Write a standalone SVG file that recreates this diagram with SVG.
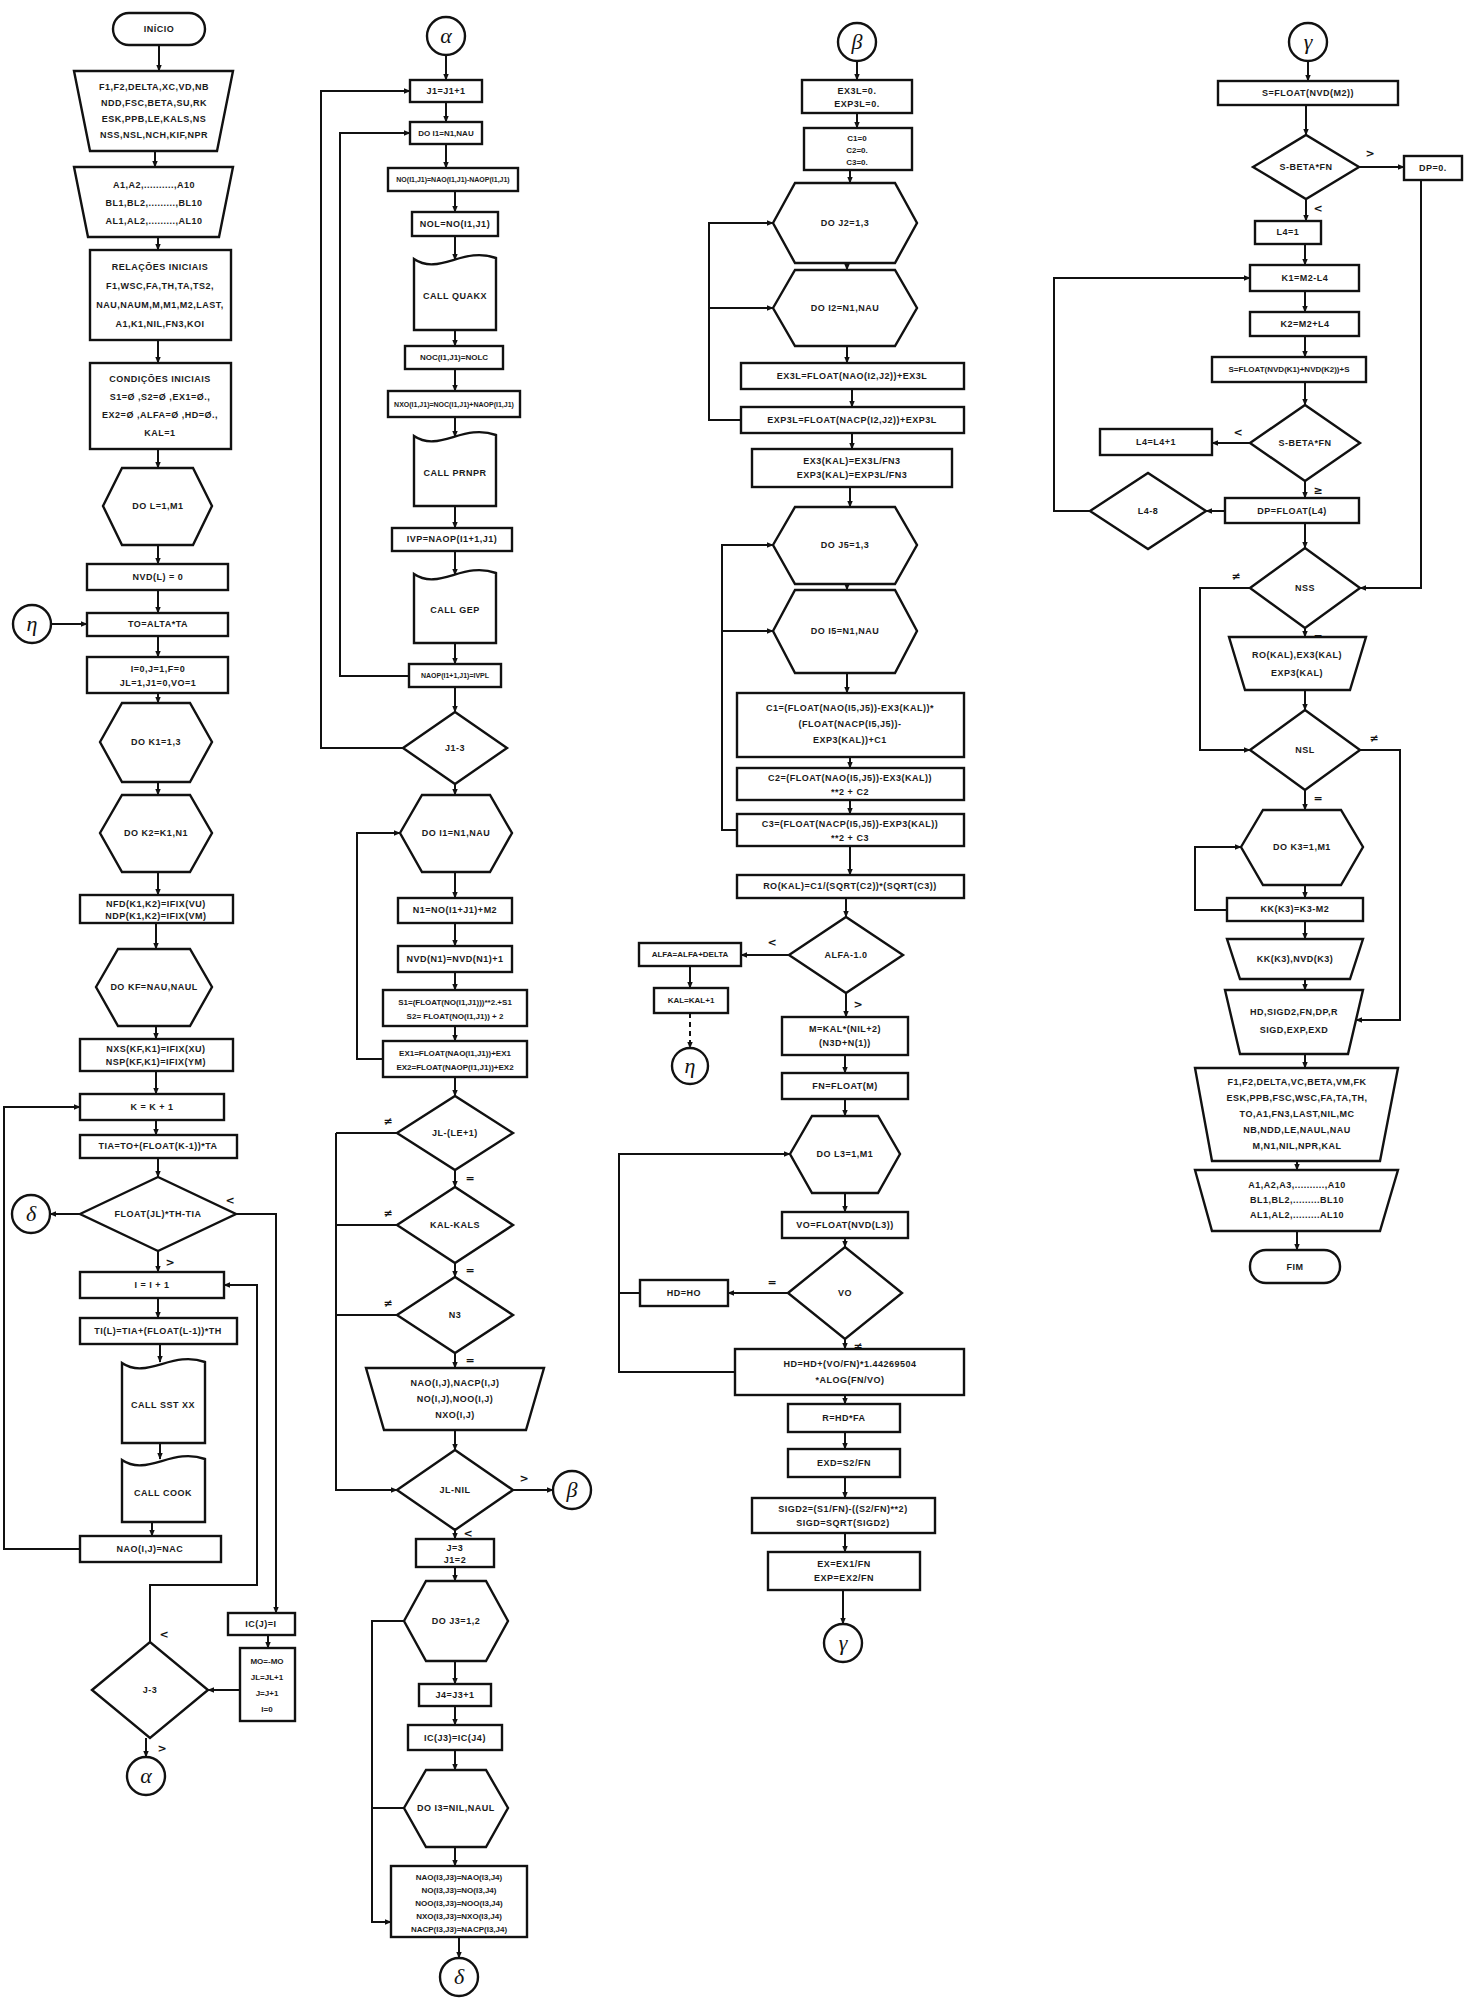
<svg xmlns="http://www.w3.org/2000/svg" width="1471" height="2011" viewBox="0 0 1471 2011">
<defs>
<marker id="a" viewBox="0 0 10 10" refX="9" refY="5" markerWidth="7" markerHeight="7" orient="auto" markerUnits="userSpaceOnUse"><path d="M0,1 L10,5 L0,9 z" fill="#111"/></marker>
<style>
.b{fill:#fff;stroke:#111;stroke-width:2.4}
.c{fill:none;stroke:#111;stroke-width:2}
.d{fill:none;stroke:#111;stroke-width:2;stroke-dasharray:5 4}
.t{font-family:"Liberation Sans",Arial,sans-serif;font-weight:bold;font-size:9px;letter-spacing:0.5px;fill:#1a1a1a;text-anchor:middle}
.m{font-size:8px;letter-spacing:0}
.s{font-size:7px;letter-spacing:0}
.g{font-family:"Liberation Serif","Times New Roman",serif;font-style:italic;font-size:22px;fill:#111;text-anchor:middle}
.l{font-family:"DejaVu Sans",sans-serif;font-weight:bold;font-size:11px;fill:#111;text-anchor:middle}
</style>
</defs>
<rect width="1471" height="2011" fill="#fff"/>

<g id="connectors">
<!-- column 1 -->
<path class="c" marker-end="url(#a)" d="M159,45 V71"/>
<path class="c" marker-end="url(#a)" d="M155,151 V167"/>
<path class="c" marker-end="url(#a)" d="M158,237 V250"/>
<path class="c" marker-end="url(#a)" d="M158,340 V363"/>
<path class="c" marker-end="url(#a)" d="M158,449 V468"/>
<path class="c" marker-end="url(#a)" d="M158,545 V564"/>
<path class="c" marker-end="url(#a)" d="M158,590 V613"/>
<path class="c" marker-end="url(#a)" d="M158,636 V657"/>
<path class="c" marker-end="url(#a)" d="M158,693 V703"/>
<path class="c" marker-end="url(#a)" d="M158,782 V795"/>
<path class="c" marker-end="url(#a)" d="M158,872 V895"/>
<path class="c" marker-end="url(#a)" d="M156,923 V949"/>
<path class="c" marker-end="url(#a)" d="M156,1026 V1039"/>
<path class="c" marker-end="url(#a)" d="M156,1071 V1094"/>
<path class="c" marker-end="url(#a)" d="M156,1120 V1135"/>
<path class="c" marker-end="url(#a)" d="M158,1158 V1177"/>
<path class="c" marker-end="url(#a)" d="M158,1251 V1272"/>
<path class="c" marker-end="url(#a)" d="M158,1298 V1318"/>
<path class="c" marker-end="url(#a)" d="M160,1344 V1362"/>
<path class="c" marker-end="url(#a)" d="M160,1443 V1459"/>
<path class="c" marker-end="url(#a)" d="M152,1522 V1536"/>
<path class="c" marker-end="url(#a)" d="M51,624 H87"/>
<path class="c" marker-end="url(#a)" d="M80,1214 H50"/>
<path class="c" marker-end="url(#a)" d="M80,1549 H4 V1107 H80"/>
<path class="c" marker-end="url(#a)" d="M236,1214 H276 V1613"/>
<path class="c" marker-end="url(#a)" d="M150,1642 V1585 H257 V1285 H224"/>
<path class="c" marker-end="url(#a)" d="M268,1635 V1648"/>
<path class="c" marker-end="url(#a)" d="M240,1690 H208"/>
<path class="c" marker-end="url(#a)" d="M146,1738 V1757"/>
<!-- column 2 -->
<path class="c" marker-end="url(#a)" d="M446,55 V80"/>
<path class="c" marker-end="url(#a)" d="M446,102 V122"/>
<path class="c" marker-end="url(#a)" d="M446,144 V168"/>
<path class="c" marker-end="url(#a)" d="M455,191 V212"/>
<path class="c" marker-end="url(#a)" d="M455,236 V260"/>
<path class="c" marker-end="url(#a)" d="M455,330 V346"/>
<path class="c" marker-end="url(#a)" d="M455,369 V391"/>
<path class="c" marker-end="url(#a)" d="M455,417 V437"/>
<path class="c" marker-end="url(#a)" d="M455,506 V528"/>
<path class="c" marker-end="url(#a)" d="M455,551 V575"/>
<path class="c" marker-end="url(#a)" d="M455,643 V664"/>
<path class="c" marker-end="url(#a)" d="M455,687 V712"/>
<path class="c" marker-end="url(#a)" d="M403,748 H321 V91 H410"/>
<path class="c" marker-end="url(#a)" d="M409,676 H340 V133 H410"/>
<path class="c" marker-end="url(#a)" d="M455,784 V795"/>
<path class="c" marker-end="url(#a)" d="M455,872 V898"/>
<path class="c" marker-end="url(#a)" d="M455,923 V946"/>
<path class="c" marker-end="url(#a)" d="M455,972 V990"/>
<path class="c" marker-end="url(#a)" d="M455,1026 V1041"/>
<path class="c" marker-end="url(#a)" d="M455,1077 V1096"/>
<path class="c" marker-end="url(#a)" d="M383,1059 H357 V833 H400"/>
<path class="c" marker-end="url(#a)" d="M455,1170 V1187"/>
<path class="c" marker-end="url(#a)" d="M455,1263 V1277"/>
<path class="c" marker-end="url(#a)" d="M455,1353 V1368"/>
<path class="c" marker-end="url(#a)" d="M455,1430 V1450"/>
<path class="c" d="M397,1133 H336"/>
<path class="c" d="M397,1225 H336"/>
<path class="c" d="M397,1315 H336"/>
<path class="c" marker-end="url(#a)" d="M336,1133 V1490 H397"/>
<path class="c" marker-end="url(#a)" d="M513,1490 H553"/>
<path class="c" marker-end="url(#a)" d="M455,1530 V1539"/>
<path class="c" marker-end="url(#a)" d="M455,1567 V1581"/>
<path class="c" marker-end="url(#a)" d="M455,1661 V1684"/>
<path class="c" marker-end="url(#a)" d="M455,1706 V1725"/>
<path class="c" marker-end="url(#a)" d="M455,1750 V1770"/>
<path class="c" marker-end="url(#a)" d="M455,1847 V1866"/>
<path class="c" marker-end="url(#a)" d="M459,1937 V1958"/>
<path class="c" marker-end="url(#a)" d="M404,1621 H372 V1922 H391"/>
<path class="c" d="M404,1808 H372"/>
<!-- column 3 -->
<path class="c" marker-end="url(#a)" d="M857,61 V80"/>
<path class="c" marker-end="url(#a)" d="M857,113 V128"/>
<path class="c" marker-end="url(#a)" d="M850,170 V183"/>
<path class="c" marker-end="url(#a)" d="M847,263 V270"/>
<path class="c" marker-end="url(#a)" d="M847,346 V363"/>
<path class="c" marker-end="url(#a)" d="M852,389 V407"/>
<path class="c" marker-end="url(#a)" d="M852,433 V449"/>
<path class="c" marker-end="url(#a)" d="M850,487 V507"/>
<path class="c" marker-end="url(#a)" d="M847,584 V590"/>
<path class="c" marker-end="url(#a)" d="M847,673 V693"/>
<path class="c" marker-end="url(#a)" d="M850,757 V768"/>
<path class="c" marker-end="url(#a)" d="M850,800 V814"/>
<path class="c" marker-end="url(#a)" d="M850,846 V875"/>
<path class="c" marker-end="url(#a)" d="M846,898 V917"/>
<path class="c" marker-end="url(#a)" d="M741,420 H709 V223 H773"/>
<path class="c" marker-end="url(#a)" d="M709,308 H773"/>
<path class="c" marker-end="url(#a)" d="M737,830 H722 V545 H773"/>
<path class="c" marker-end="url(#a)" d="M722,631 H773"/>
<path class="c" marker-end="url(#a)" d="M789,955 H741"/>
<path class="c" marker-end="url(#a)" d="M690,966 V988"/>
<path class="d" marker-end="url(#a)" d="M690,1013 V1048"/>
<path class="c" marker-end="url(#a)" d="M846,993 V1017"/>
<path class="c" marker-end="url(#a)" d="M845,1055 V1073"/>
<path class="c" marker-end="url(#a)" d="M845,1099 V1116"/>
<path class="c" marker-end="url(#a)" d="M845,1193 V1212"/>
<path class="c" marker-end="url(#a)" d="M845,1238 V1247"/>
<path class="c" marker-end="url(#a)" d="M788,1293 H728"/>
<path class="c" d="M640,1293 H619"/>
<path class="c" marker-end="url(#a)" d="M845,1339 V1349"/>
<path class="c" marker-end="url(#a)" d="M735,1372 H619 V1154 H790"/>
<path class="c" marker-end="url(#a)" d="M845,1395 V1404"/>
<path class="c" marker-end="url(#a)" d="M845,1432 V1449"/>
<path class="c" marker-end="url(#a)" d="M845,1477 V1498"/>
<path class="c" marker-end="url(#a)" d="M845,1533 V1552"/>
<path class="c" marker-end="url(#a)" d="M843,1590 V1624"/>
<!-- column 4 -->
<path class="c" marker-end="url(#a)" d="M1308,61 V81"/>
<path class="c" marker-end="url(#a)" d="M1306,105 V135"/>
<path class="c" marker-end="url(#a)" d="M1359,167 H1404"/>
<path class="c" marker-end="url(#a)" d="M1421,180 V588 H1360"/>
<path class="c" marker-end="url(#a)" d="M1306,199 V221"/>
<path class="c" marker-end="url(#a)" d="M1305,244 V265"/>
<path class="c" marker-end="url(#a)" d="M1305,291 V312"/>
<path class="c" marker-end="url(#a)" d="M1305,336 V357"/>
<path class="c" marker-end="url(#a)" d="M1305,382 V405"/>
<path class="c" marker-end="url(#a)" d="M1250,443 H1212"/>
<path class="c" marker-end="url(#a)" d="M1305,481 V498"/>
<path class="c" marker-end="url(#a)" d="M1225,511 H1206"/>
<path class="c" marker-end="url(#a)" d="M1090,511 H1054 V278 H1250"/>
<path class="c" marker-end="url(#a)" d="M1305,523 V548"/>
<path class="c" marker-end="url(#a)" d="M1250,588 H1200 V750 H1250"/>
<path class="c" marker-end="url(#a)" d="M1305,628 V637"/>
<path class="c" marker-end="url(#a)" d="M1305,690 V710"/>
<path class="c" marker-end="url(#a)" d="M1360,750 H1400 V1020 H1356"/>
<path class="c" marker-end="url(#a)" d="M1305,790 V810"/>
<path class="c" marker-end="url(#a)" d="M1305,885 V898"/>
<path class="c" marker-end="url(#a)" d="M1227,910 H1195 V847 H1241"/>
<path class="c" marker-end="url(#a)" d="M1305,921 V939"/>
<path class="c" marker-end="url(#a)" d="M1305,979 V990"/>
<path class="c" marker-end="url(#a)" d="M1305,1054 V1068"/>
<path class="c" marker-end="url(#a)" d="M1297,1161 V1170"/>
<path class="c" marker-end="url(#a)" d="M1297,1231 V1250"/>
<!-- branch labels -->
<text class="l" x="230" y="1204">&lt;</text>
<text class="l" x="170" y="1266">&gt;</text>
<text class="l" x="164" y="1638">&lt;</text>
<text class="l" x="162" y="1752">&gt;</text>
<text class="l" x="388" y="1125">≠</text>
<text class="l" x="470" y="1182">=</text>
<text class="l" x="388" y="1217">≠</text>
<text class="l" x="470" y="1274">=</text>
<text class="l" x="388" y="1307">≠</text>
<text class="l" x="470" y="1364">=</text>
<text class="l" x="524" y="1482">&gt;</text>
<text class="l" x="468" y="1537">&lt;</text>
<text class="l" x="772" y="946">&lt;</text>
<text class="l" x="858" y="1008">&gt;</text>
<text class="l" x="772" y="1286">=</text>
<text class="l" x="858" y="1350">≠</text>
<text class="l" x="1370" y="157">&gt;</text>
<text class="l" x="1318" y="212">&lt;</text>
<text class="l" x="1238" y="436">&lt;</text>
<text class="l" x="1318" y="494">≥</text>
<text class="l" x="1236" y="580">≠</text>
<text class="l" x="1318" y="640">=</text>
<text class="l" x="1374" y="742">≠</text>
<text class="l" x="1318" y="802">=</text>
</g>

<!-- ===== column 1 ===== -->
<g id="n-inicio"><rect class="b" x="113" y="13" width="92" height="32" rx="16"/><text class="t" x="159" y="32">INÍCIO</text></g>
<g id="n-in1"><polygon class="b" points="74,71 233,71 217,151 90,151"/>
<text class="t" x="154" y="90">F1,F2,DELTA,XC,VD,NB</text><text class="t" x="154" y="106">NDD,FSC,BETA,SU,RK</text><text class="t" x="154" y="122">ESK,PPB,LE,KALS,NS</text><text class="t" x="154" y="138">NSS,NSL,NCH,KIF,NPR</text></g>
<g id="n-in2"><polygon class="b" points="74,167 233,167 219,237 88,237"/>
<text class="t" x="154" y="188">A1,A2,..........,A10</text><text class="t" x="154" y="206">BL1,BL2,.........,BL10</text><text class="t" x="154" y="224">AL1,AL2,.........,AL10</text></g>
<g id="n-rel"><rect class="b" x="90" y="250" width="141" height="90"/>
<text class="t" x="160" y="270">RELAÇÕES  INICIAIS</text><text class="t" x="160" y="289">F1,WSC,FA,TH,TA,TS2,</text><text class="t" x="160" y="308">NAU,NAUM,M,M1,M2,LAST,</text><text class="t" x="160" y="327">A1,K1,NIL,FN3,KOI</text></g>
<g id="n-cond"><rect class="b" x="90" y="363" width="141" height="86"/>
<text class="t" x="160" y="382">CONDIÇÕES  INICIAIS</text><text class="t" x="160" y="400">S1=Ø ,S2=Ø ,EX1=Ø.,</text><text class="t" x="160" y="418">EX2=Ø ,ALFA=Ø ,HD=Ø.,</text><text class="t" x="160" y="436">KAL=1</text></g>
<g id="n-doL"><polygon class="b" points="103,506 122,468 193,468 212,506 193,545 122,545"/><text class="t" x="158" y="509">DO L=1,M1</text></g>
<g id="n-nvd"><rect class="b" x="87" y="564" width="141" height="26"/><text class="t" x="158" y="580">NVD(L) = 0</text></g>
<g id="n-eta1"><circle class="b" cx="32" cy="624" r="19"/><text class="g" x="32" y="631">η</text></g>
<g id="n-to"><rect class="b" x="87" y="613" width="141" height="23"/><text class="t" x="158" y="627">TO=ALTA*TA</text></g>
<g id="n-i0"><rect class="b" x="87" y="657" width="141" height="36"/><text class="t" x="158" y="672">I=0,J=1,F=0</text><text class="t" x="158" y="686">JL=1,J1=0,VO=1</text></g>
<g id="n-doK1"><polygon class="b" points="100,742 122,703 190,703 212,742 190,782 122,782"/><text class="t" x="156" y="745">DO K1=1,3</text></g>
<g id="n-doK2"><polygon class="b" points="100,833 122,795 190,795 212,833 190,872 122,872"/><text class="t" x="156" y="836">DO K2=K1,N1</text></g>
<g id="n-nfd"><rect class="b" x="80" y="895" width="153" height="28"/><text class="t" x="156" y="907">NFD(K1,K2)=IFIX(VU)</text><text class="t" x="156" y="919">NDP(K1,K2)=IFIX(VM)</text></g>
<g id="n-doKF"><polygon class="b" points="96,987 118,949 190,949 212,987 190,1026 118,1026"/><text class="t" x="154" y="990">DO KF=NAU,NAUL</text></g>
<g id="n-nxs"><rect class="b" x="80" y="1039" width="153" height="32"/><text class="t" x="156" y="1052">NXS(KF,K1)=IFIX(XU)</text><text class="t" x="156" y="1065">NSP(KF,K1)=IFIX(YM)</text></g>
<g id="n-kk"><rect class="b" x="80" y="1094" width="144" height="26"/><text class="t" x="152" y="1110">K = K + 1</text></g>
<g id="n-tia"><rect class="b" x="80" y="1135" width="157" height="23"/><text class="t" x="158" y="1149">TIA=TO+(FLOAT(K-1))*TA</text></g>
<g id="n-dfl"><polygon class="b" points="80,1214 158,1177 236,1214 158,1251"/><text class="t" x="158" y="1217">FLOAT(JL)*TH-TIA</text></g>
<g id="n-delta1"><circle class="b" cx="31" cy="1214" r="19"/><text class="g" x="31" y="1221">δ</text></g>
<g id="n-ii"><rect class="b" x="80" y="1272" width="144" height="26"/><text class="t" x="152" y="1288">I = I + 1</text></g>
<g id="n-ti"><rect class="b" x="80" y="1318" width="157" height="26"/><text class="t" x="158" y="1334">TI(L)=TIA+(FLOAT(L-1))*TH</text></g>
<g id="n-sst"><path class="b" d="M122,1363 C147,1380 172,1350 205,1362 L205,1443 L122,1443 Z"/><text class="t" x="163" y="1408">CALL SST XX</text></g>
<g id="n-cook"><path class="b" d="M122,1460 C147,1477 172,1447 205,1459 L205,1522 L122,1522 Z"/><text class="t" x="163" y="1496">CALL  COOK</text></g>
<g id="n-nao"><rect class="b" x="80" y="1536" width="141" height="26"/><text class="t" x="150" y="1552">NAO(I,J)=NAC</text></g>
<g id="n-ic"><rect class="b" x="228" y="1613" width="67" height="22"/><text class="t" x="261" y="1627">IC(J)=I</text></g>
<g id="n-mo"><rect class="b" x="240" y="1648" width="55" height="73"/><text class="t m" x="267" y="1664">MO=-MO</text><text class="t m" x="267" y="1680">JL=JL+1</text><text class="t m" x="267" y="1696">J=J+1</text><text class="t m" x="267" y="1712">I=0</text></g>
<g id="n-j3"><polygon class="b" points="92,1690 150,1642 208,1690 150,1738"/><text class="t" x="150" y="1693">J-3</text></g>
<g id="n-alpha1"><circle class="b" cx="146" cy="1776" r="19"/><text class="g" x="146" y="1783">α</text></g>

<!-- ===== column 2 ===== -->
<g id="n-alpha2"><circle class="b" cx="446" cy="36" r="19"/><text class="g" x="446" y="43">α</text></g>
<g id="n-j1"><rect class="b" x="410" y="80" width="72" height="22"/><text class="t" x="446" y="94">J1=J1+1</text></g>
<g id="n-doI1a"><rect class="b" x="410" y="122" width="72" height="22"/><text class="t m" x="446" y="136">DO I1=N1,NAU</text></g>
<g id="n-no"><rect class="b" x="388" y="168" width="130" height="23"/><text class="t s" x="453" y="182">NO(I1,J1)=NAO(I1,J1)-NAOP(I1,J1)</text></g>
<g id="n-nol"><rect class="b" x="412" y="212" width="86" height="24"/><text class="t" x="455" y="227">NOL=NO(I1,J1)</text></g>
<g id="n-quakx"><path class="b" d="M414,259 C439,276 463,246 496,258 L496,330 L414,330 Z"/><text class="t" x="455" y="299">CALL  QUAKX</text></g>
<g id="n-noc"><rect class="b" x="405" y="346" width="98" height="23"/><text class="t m" x="454" y="360">NOC(I1,J1)=NOLC</text></g>
<g id="n-nxo"><rect class="b" x="388" y="391" width="132" height="26"/><text class="t s" x="454" y="407">NXO(I1,J1)=NOC(I1,J1)+NAOP(I1,J1)</text></g>
<g id="n-prnpr"><path class="b" d="M414,436 C439,453 463,423 496,435 L496,506 L414,506 Z"/><text class="t" x="455" y="476">CALL  PRNPR</text></g>
<g id="n-ivp"><rect class="b" x="392" y="528" width="120" height="23"/><text class="t" x="452" y="542">IVP=NAOP(I1+1,J1)</text></g>
<g id="n-gep"><path class="b" d="M414,574 C439,591 463,561 496,573 L496,643 L414,643 Z"/><text class="t" x="455" y="613">CALL  GEP</text></g>
<g id="n-naop"><rect class="b" x="409" y="664" width="92" height="23"/><text class="t s" x="455" y="678">NAOP(I1+1,J1)=IVPL</text></g>
<g id="n-j13"><polygon class="b" points="403,748 455,712 507,748 455,784"/><text class="t" x="455" y="751">J1-3</text></g>
<g id="n-doI1b"><polygon class="b" points="400,833 422,795 490,795 512,833 490,872 422,872"/><text class="t" x="456" y="836">DO I1=N1,NAU</text></g>
<g id="n-n1"><rect class="b" x="398" y="898" width="114" height="25"/><text class="t" x="455" y="913">N1=NO(I1+J1)+M2</text></g>
<g id="n-nvdn1"><rect class="b" x="398" y="946" width="114" height="26"/><text class="t" x="455" y="962">NVD(N1)=NVD(N1)+1</text></g>
<g id="n-s1"><rect class="b" x="383" y="990" width="144" height="36"/><text class="t m" x="455" y="1005">S1=(FLOAT(NO(I1,J1)))**2.+S1</text><text class="t m" x="455" y="1019">S2= FLOAT(NO(I1,J1)) + 2</text></g>
<g id="n-ex1"><rect class="b" x="383" y="1041" width="144" height="36"/><text class="t m" x="455" y="1056">EX1=FLOAT(NAO(I1,J1))+EX1</text><text class="t m" x="455" y="1070">EX2=FLOAT(NAOP(I1,J1))+EX2</text></g>
<g id="n-jle"><polygon class="b" points="397,1133 455,1096 513,1133 455,1170"/><text class="t" x="455" y="1136">JL-(LE+1)</text></g>
<g id="n-kal"><polygon class="b" points="397,1225 455,1187 513,1225 455,1263"/><text class="t" x="455" y="1228">KAL-KALS</text></g>
<g id="n-n3"><polygon class="b" points="397,1315 455,1277 513,1315 455,1353"/><text class="t" x="455" y="1318">N3</text></g>
<g id="n-out1"><polygon class="b" points="366,1368 544,1368 526,1430 384,1430"/><text class="t" x="455" y="1386">NAO(I,J),NACP(I,J)</text><text class="t" x="455" y="1402">NO(I,J),NOO(I,J)</text><text class="t" x="455" y="1418">NXO(I,J)</text></g>
<g id="n-jlnil"><polygon class="b" points="397,1490 455,1450 513,1490 455,1530"/><text class="t" x="455" y="1493">JL-NIL</text></g>
<g id="n-beta1"><circle class="b" cx="572" cy="1490" r="19"/><text class="g" x="572" y="1497">β</text></g>
<g id="n-j3b"><rect class="b" x="416" y="1539" width="78" height="28"/><text class="t" x="455" y="1551">J=3</text><text class="t" x="455" y="1563">J1=2</text></g>
<g id="n-doJ3"><polygon class="b" points="404,1621 426,1581 486,1581 508,1621 486,1661 426,1661"/><text class="t" x="456" y="1624">DO  J3=1,2</text></g>
<g id="n-j4"><rect class="b" x="419" y="1684" width="72" height="22"/><text class="t" x="455" y="1698">J4=J3+1</text></g>
<g id="n-icj3"><rect class="b" x="408" y="1725" width="94" height="25"/><text class="t" x="455" y="1741">IC(J3)=IC(J4)</text></g>
<g id="n-doI3"><polygon class="b" points="404,1808 426,1770 486,1770 508,1808 486,1847 426,1847"/><text class="t" x="456" y="1811">DO I3=NIL,NAUL</text></g>
<g id="n-nao5"><rect class="b" x="391" y="1866" width="136" height="71"/><text class="t m" x="459" y="1880">NAO(I3,J3)=NAO(I3,J4)</text><text class="t m" x="459" y="1893">NO(I3,J3)=NO(I3,J4)</text><text class="t m" x="459" y="1906">NOO(I3,J3)=NOO(I3,J4)</text><text class="t m" x="459" y="1919">NXO(I3,J3)=NXO(I3,J4)</text><text class="t m" x="459" y="1932">NACP(I3,J3)=NACP(I3,J4)</text></g>
<g id="n-delta2"><circle class="b" cx="459" cy="1977" r="19"/><text class="g" x="459" y="1984">δ</text></g>

<!-- ===== column 3 ===== -->
<g id="n-beta2"><circle class="b" cx="857" cy="42" r="19"/><text class="g" x="857" y="49">β</text></g>
<g id="n-ex3l0"><rect class="b" x="802" y="80" width="110" height="33"/><text class="t" x="857" y="94">EX3L=0.</text><text class="t" x="857" y="107">EXP3L=0.</text></g>
<g id="n-c0"><rect class="b" x="804" y="128" width="108" height="42"/><text class="t m" x="857" y="141">C1=0</text><text class="t m" x="857" y="153">C2=0.</text><text class="t m" x="857" y="165">C3=0.</text></g>
<g id="n-doJ2"><polygon class="b" points="773,223 795,183 895,183 917,223 895,263 795,263"/><text class="t" x="845" y="226">DO J2=1,3</text></g>
<g id="n-doI2"><polygon class="b" points="773,308 795,270 895,270 917,308 895,346 795,346"/><text class="t" x="845" y="311">DO I2=N1,NAU</text></g>
<g id="n-ex3l"><rect class="b" x="741" y="363" width="223" height="26"/><text class="t" x="852" y="379">EX3L=FLOAT(NAO(I2,J2))+EX3L</text></g>
<g id="n-exp3l"><rect class="b" x="741" y="407" width="223" height="26"/><text class="t" x="852" y="423">EXP3L=FLOAT(NACP(I2,J2))+EXP3L</text></g>
<g id="n-ex3kal"><rect class="b" x="752" y="449" width="200" height="38"/><text class="t" x="852" y="464">EX3(KAL)=EX3L/FN3</text><text class="t" x="852" y="478">EXP3(KAL)=EXP3L/FN3</text></g>
<g id="n-doJ5"><polygon class="b" points="773,545 795,507 895,507 917,545 895,584 795,584"/><text class="t" x="845" y="548">DO J5=1,3</text></g>
<g id="n-doI5"><polygon class="b" points="773,631 795,590 895,590 917,631 895,673 795,673"/><text class="t" x="845" y="634">DO I5=N1,NAU</text></g>
<g id="n-c1"><rect class="b" x="737" y="693" width="227" height="64"/><text class="t" x="850" y="711">C1=(FLOAT(NAO(I5,J5))-EX3(KAL))*</text><text class="t" x="850" y="727">(FLOAT(NACP(I5,J5))-</text><text class="t" x="850" y="743">EXP3(KAL))+C1</text></g>
<g id="n-c2"><rect class="b" x="737" y="768" width="227" height="32"/><text class="t" x="850" y="781">C2=(FLOAT(NAO(I5,J5))-EX3(KAL))</text><text class="t" x="850" y="795">**2  + C2</text></g>
<g id="n-c3"><rect class="b" x="737" y="814" width="227" height="32"/><text class="t" x="850" y="827">C3=(FLOAT(NACP(I5,J5))-EXP3(KAL))</text><text class="t" x="850" y="841">**2  + C3</text></g>
<g id="n-ro"><rect class="b" x="737" y="875" width="227" height="23"/><text class="t" x="850" y="889">RO(KAL)=C1/(SQRT(C2))*(SQRT(C3))</text></g>
<g id="n-alfa"><polygon class="b" points="789,955 846,917 903,955 846,993"/><text class="t" x="846" y="958">ALFA-1.0</text></g>
<g id="n-alfa2"><rect class="b" x="639" y="943" width="102" height="23"/><text class="t m" x="690" y="957">ALFA=ALFA+DELTA</text></g>
<g id="n-kal1"><rect class="b" x="654" y="988" width="74" height="25"/><text class="t m" x="691" y="1003">KAL=KAL+1</text></g>
<g id="n-eta2"><circle class="b" cx="690" cy="1066" r="18"/><text class="g" x="690" y="1073">η</text></g>
<g id="n-m"><rect class="b" x="782" y="1017" width="126" height="38"/><text class="t" x="845" y="1032">M=KAL*(NIL+2)</text><text class="t" x="845" y="1046">(N3D+N(1))</text></g>
<g id="n-fn"><rect class="b" x="782" y="1073" width="126" height="26"/><text class="t" x="845" y="1089">FN=FLOAT(M)</text></g>
<g id="n-doL3"><polygon class="b" points="790,1154 812,1116 878,1116 900,1154 878,1193 812,1193"/><text class="t" x="845" y="1157">DO L3=1,M1</text></g>
<g id="n-vo"><rect class="b" x="782" y="1212" width="126" height="26"/><text class="t" x="845" y="1228">VO=FLOAT(NVD(L3))</text></g>
<g id="n-dvo"><polygon class="b" points="788,1293 845,1247 902,1293 845,1339"/><text class="t" x="845" y="1296">VO</text></g>
<g id="n-hdho"><rect class="b" x="640" y="1280" width="88" height="26"/><text class="t" x="684" y="1296">HD=HO</text></g>
<g id="n-hd"><rect class="b" x="735" y="1349" width="229" height="46"/><text class="t" x="850" y="1367">HD=HD+(VO/FN)*1.44269504</text><text class="t" x="850" y="1383">*ALOG(FN/VO)</text></g>
<g id="n-r"><rect class="b" x="788" y="1404" width="112" height="28"/><text class="t" x="844" y="1421">R=HD*FA</text></g>
<g id="n-exd"><rect class="b" x="788" y="1449" width="112" height="28"/><text class="t" x="844" y="1466">EXD=S2/FN</text></g>
<g id="n-sigd"><rect class="b" x="752" y="1498" width="183" height="35"/><text class="t" x="843" y="1512">SIGD2=(S1/FN)-((S2/FN)**2)</text><text class="t" x="843" y="1526">SIGD=SQRT(SIGD2)</text></g>
<g id="n-ex"><rect class="b" x="768" y="1552" width="152" height="38"/><text class="t" x="844" y="1567">EX=EX1/FN</text><text class="t" x="844" y="1581">EXP=EX2/FN</text></g>
<g id="n-gamma1"><circle class="b" cx="843" cy="1643" r="19"/><text class="g" x="843" y="1650">γ</text></g>

<!-- ===== column 4 ===== -->
<g id="n-gamma2"><circle class="b" cx="1308" cy="42" r="19"/><text class="g" x="1308" y="49">γ</text></g>
<g id="n-s"><rect class="b" x="1218" y="81" width="180" height="24"/><text class="t" x="1308" y="96">S=FLOAT(NVD(M2))</text></g>
<g id="n-sb1"><polygon class="b" points="1253,167 1306,135 1359,167 1306,199"/><text class="t" x="1306" y="170">S-BETA*FN</text></g>
<g id="n-dp0"><rect class="b" x="1404" y="156" width="58" height="24"/><text class="t" x="1433" y="171">DP=0.</text></g>
<g id="n-l41"><rect class="b" x="1255" y="221" width="66" height="23"/><text class="t" x="1288" y="235">L4=1</text></g>
<g id="n-k1"><rect class="b" x="1250" y="265" width="109" height="26"/><text class="t" x="1305" y="281">K1=M2-L4</text></g>
<g id="n-k2"><rect class="b" x="1250" y="312" width="109" height="24"/><text class="t" x="1305" y="327">K2=M2+L4</text></g>
<g id="n-s2"><rect class="b" x="1212" y="357" width="154" height="25"/><text class="t m" x="1289" y="372">S=FLOAT(NVD(K1)+NVD(K2))+S</text></g>
<g id="n-sb2"><polygon class="b" points="1250,443 1305,405 1360,443 1305,481"/><text class="t" x="1305" y="446">S-BETA*FN</text></g>
<g id="n-l4p"><rect class="b" x="1100" y="429" width="112" height="26"/><text class="t" x="1156" y="445">L4=L4+1</text></g>
<g id="n-dp"><rect class="b" x="1225" y="498" width="134" height="25"/><text class="t" x="1292" y="514">DP=FLOAT(L4)</text></g>
<g id="n-l48"><polygon class="b" points="1090,511 1148,473 1206,511 1148,549"/><text class="t" x="1148" y="514">L4-8</text></g>
<g id="n-nss"><polygon class="b" points="1250,588 1305,548 1360,588 1305,628"/><text class="t" x="1305" y="591">NSS</text></g>
<g id="n-out2"><polygon class="b" points="1229,637 1366,637 1350,690 1245,690"/><text class="t" x="1297" y="658">RO(KAL),EX3(KAL)</text><text class="t" x="1297" y="676">EXP3(KAL)</text></g>
<g id="n-nsl"><polygon class="b" points="1250,750 1305,710 1360,750 1305,790"/><text class="t" x="1305" y="753">NSL</text></g>
<g id="n-doK3"><polygon class="b" points="1241,847 1263,810 1341,810 1363,847 1341,885 1263,885"/><text class="t" x="1302" y="850">DO K3=1,M1</text></g>
<g id="n-kk3"><rect class="b" x="1227" y="898" width="136" height="23"/><text class="t" x="1295" y="912">KK(K3)=K3-M2</text></g>
<g id="n-out3"><polygon class="b" points="1227,939 1363,939 1350,979 1240,979"/><text class="t" x="1295" y="962">KK(K3),NVD(K3)</text></g>
<g id="n-out4"><polygon class="b" points="1225,990 1363,990 1348,1054 1240,1054"/><text class="t" x="1294" y="1015">HD,SIGD2,FN,DP,R</text><text class="t" x="1294" y="1033">SIGD,EXP,EXD</text></g>
<g id="n-out5"><polygon class="b" points="1195,1068 1398,1068 1380,1161 1212,1161"/><text class="t" x="1297" y="1085">F1,F2,DELTA,VC,BETA,VM,FK</text><text class="t" x="1297" y="1101">ESK,PPB,FSC,WSC,FA,TA,TH,</text><text class="t" x="1297" y="1117">TO,A1,FN3,LAST,NIL,MC</text><text class="t" x="1297" y="1133">NB,NDD,LE,NAUL,NAU</text><text class="t" x="1297" y="1149">M,N1,NIL,NPR,KAL</text></g>
<g id="n-out6"><polygon class="b" points="1195,1170 1398,1170 1380,1231 1212,1231"/><text class="t" x="1297" y="1188">A1,A2,A3,..........,A10</text><text class="t" x="1297" y="1203">BL1,BL2,.........BL10</text><text class="t" x="1297" y="1218">AL1,AL2,.........AL10</text></g>
<g id="n-fim"><rect class="b" x="1250" y="1250" width="90" height="33" rx="16"/><text class="t" x="1295" y="1270">FIM</text></g>
</svg>
